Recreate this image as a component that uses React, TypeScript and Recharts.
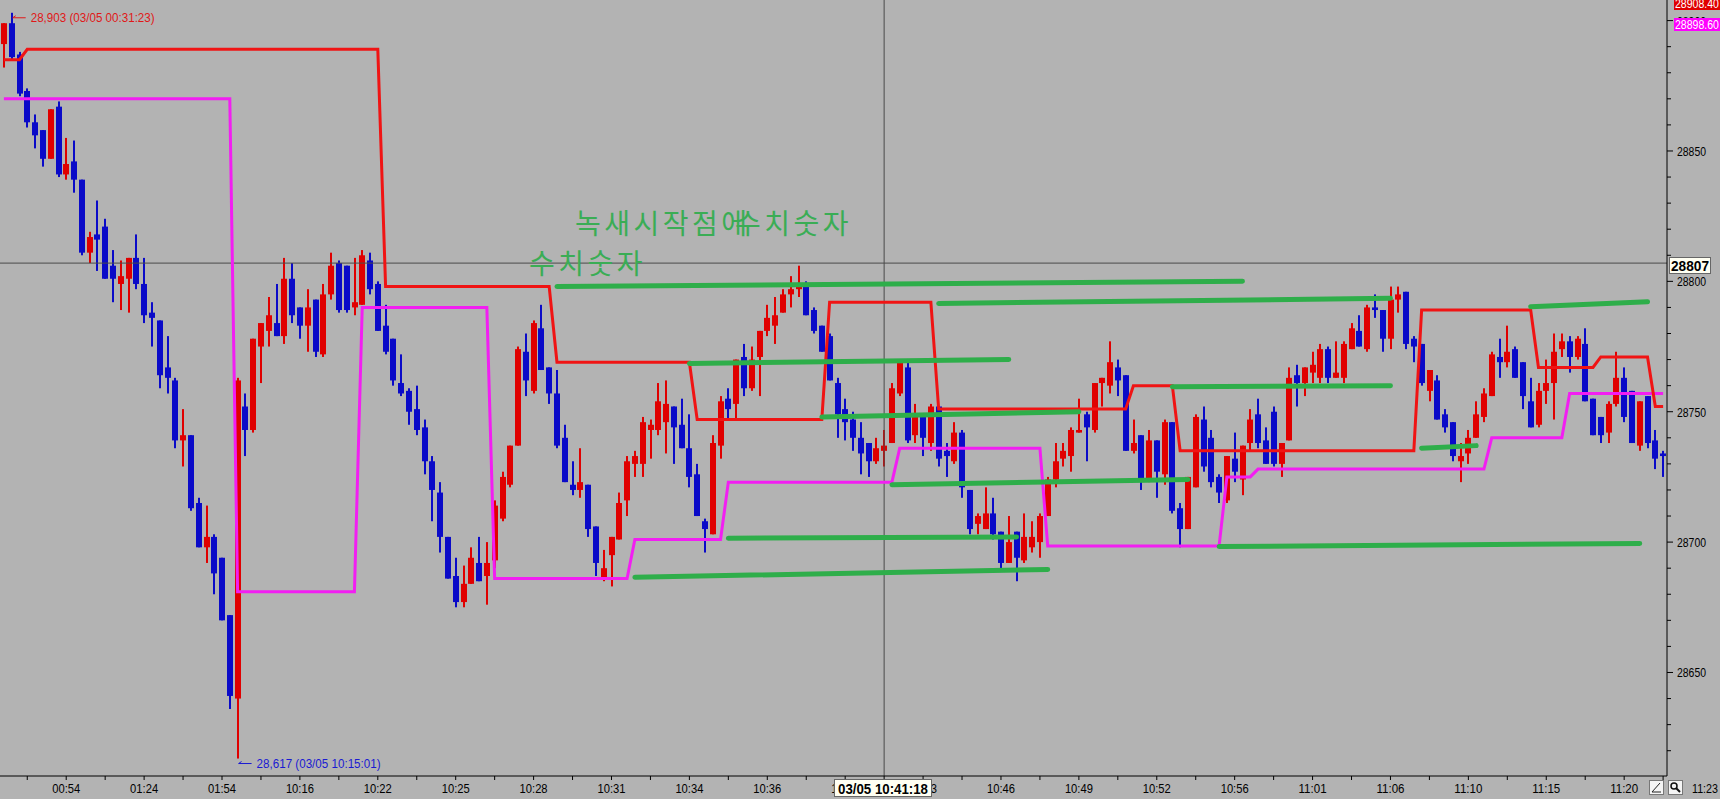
import React from "react";
import { ComposedChart, Bar, Line, XAxis, YAxis, ReferenceLine, ReferenceDot } from "recharts";

// one-minute-ish candles (index 0..213)
const opens = [
  28891, 28899, 28887, 28873, 28861, 28858, 28847, 28867, 28841, 28846,
  28839, 28811, 28818, 28821, 28806, 28799, 28801, 28809, 28799, 28788,
  28785, 28767, 28762, 28739, 28741, 28715, 28698, 28702, 28694, 28672,
  28640, 28752, 28743, 28775, 28781, 28784, 28779, 28801, 28790, 28783,
  28793, 28772, 28795, 28807, 28806, 28790, 28791, 28808, 28799, 28783,
  28778, 28761, 28758, 28751, 28744, 28731, 28719, 28702, 28687, 28677,
  28684, 28692, 28687, 28693, 28709, 28722, 28737, 28773, 28758, 28782,
  28767, 28757, 28740, 28722, 28720, 28722, 28706, 28686, 28695, 28701,
  28716, 28730, 28730, 28743, 28743, 28746, 28752, 28745, 28736, 28726,
  28708, 28703, 28737, 28755, 28753, 28771, 28759, 28771, 28781, 28783,
  28788, 28795, 28797, 28798, 28789, 28783, 28779, 28761, 28751, 28747,
  28740, 28738, 28731, 28735, 28738, 28757, 28767, 28741, 28749, 28738,
  28752, 28735, 28731, 28742, 28720, 28707, 28705, 28711, 28704, 28692,
  28704, 28693, 28698, 28700, 28710, 28724, 28732, 28733, 28742, 28749,
  28743, 28761, 28760, 28767, 28764, 28735, 28741, 28724, 28739, 28726,
  28746, 28713, 28705, 28721, 28747, 28740, 28725, 28716, 28732, 28724,
  28738, 28749, 28739, 28750, 28730, 28739, 28764, 28761, 28765, 28763,
  28774, 28763, 28763, 28774, 28781, 28774, 28790, 28789, 28778, 28793,
  28796, 28778, 28776, 28758, 28762, 28749, 28746, 28731, 28734, 28740,
  28748, 28756, 28771, 28769, 28774, 28769, 28754, 28745, 28758, 28761,
  28774, 28777, 28771, 28776, 28755, 28748, 28742, 28753, 28763, 28758,
  28737, 28756, 28739, 28734,
];
const highs = [
  28899, 28903, 28888, 28874, 28864, 28858, 28866, 28869, 28855, 28854,
  28839, 28819, 28831, 28824, 28812, 28808, 28809, 28818, 28809, 28792,
  28785, 28779, 28763, 28751, 28741, 28717, 28714, 28703, 28694, 28672,
  28763, 28757, 28778, 28784, 28794, 28799, 28809, 28807, 28790, 28797,
  28793, 28799, 28811, 28808, 28806, 28809, 28812, 28811, 28800, 28791,
  28778, 28772, 28759, 28760, 28747, 28733, 28723, 28702, 28694, 28691,
  28698, 28702, 28700, 28716, 28727, 28737, 28775, 28780, 28785, 28791,
  28767, 28766, 28745, 28731, 28736, 28722, 28706, 28697, 28702, 28719,
  28733, 28735, 28748, 28747, 28761, 28762, 28752, 28755, 28749, 28730,
  28709, 28741, 28756, 28759, 28770, 28776, 28775, 28781, 28791, 28794,
  28797, 28802, 28806, 28800, 28790, 28783, 28780, 28763, 28755, 28750,
  28746, 28738, 28740, 28743, 28761, 28769, 28769, 28753, 28749, 28753,
  28752, 28738, 28746, 28743, 28720, 28711, 28721, 28717, 28704, 28710,
  28704, 28711, 28708, 28711, 28725, 28738, 28738, 28744, 28755, 28750,
  28761, 28763, 28777, 28770, 28764, 28747, 28741, 28743, 28739, 28747,
  28746, 28715, 28725, 28749, 28752, 28743, 28726, 28733, 28742, 28737,
  28751, 28755, 28744, 28752, 28738, 28767, 28768, 28767, 28773, 28776,
  28775, 28777, 28777, 28784, 28787, 28791, 28795, 28789, 28798, 28798,
  28796, 28779, 28776, 28766, 28764, 28751, 28746, 28738, 28743, 28754,
  28759, 28773, 28778, 28783, 28775, 28769, 28763, 28761, 28770, 28780,
  28780, 28779, 28779, 28782, 28755, 28748, 28754, 28773, 28767, 28758,
  28754, 28756, 28743, 28735,
];
const lows = [
  28882, 28885, 28871, 28859, 28851, 28844, 28847, 28840, 28839, 28834,
  28810, 28807, 28804, 28801, 28792, 28789, 28788, 28797, 28784, 28775,
  28759, 28757, 28736, 28729, 28712, 28698, 28692, 28680, 28670, 28636,
  28617, 28733, 28742, 28761, 28775, 28779, 28776, 28784, 28778, 28773,
  28771, 28771, 28793, 28788, 28788, 28787, 28791, 28795, 28781, 28772,
  28760, 28756, 28745, 28741, 28726, 28708, 28696, 28686, 28675, 28675,
  28684, 28685, 28676, 28690, 28708, 28721, 28737, 28756, 28757, 28766,
  28753, 28736, 28723, 28718, 28717, 28702, 28687, 28685, 28683, 28701,
  28710, 28725, 28725, 28732, 28741, 28734, 28730, 28736, 28721, 28710,
  28696, 28703, 28732, 28747, 28747, 28756, 28758, 28756, 28779, 28776,
  28788, 28790, 28794, 28787, 28780, 28773, 28762, 28740, 28739, 28735,
  28726, 28725, 28730, 28729, 28738, 28756, 28738, 28738, 28733, 28735,
  28729, 28725, 28730, 28717, 28703, 28703, 28705, 28701, 28690, 28692,
  28685, 28692, 28696, 28694, 28710, 28721, 28729, 28727, 28742, 28731,
  28742, 28752, 28757, 28756, 28735, 28734, 28720, 28723, 28717, 28722,
  28711, 28698, 28705, 28721, 28727, 28721, 28715, 28715, 28723, 28718,
  28735, 28736, 28730, 28729, 28725, 28739, 28752, 28756, 28761, 28761,
  28761, 28763, 28761, 28774, 28775, 28773, 28786, 28773, 28774, 28788,
  28774, 28769, 28760, 28754, 28747, 28742, 28731, 28723, 28730, 28740,
  28746, 28756, 28763, 28767, 28763, 28751, 28744, 28744, 28753, 28747,
  28771, 28765, 28770, 28754, 28741, 28738, 28738, 28752, 28746, 28738,
  28735, 28736, 28728, 28725,
];
const closes = [
  28899, 28886, 28872, 28861, 28856, 28847, 28866, 28841, 28845, 28839,
  28811, 28817, 28816, 28801, 28801, 28802, 28809, 28799, 28787, 28786,
  28764, 28763, 28739, 28741, 28713, 28698, 28702, 28688, 28670, 28641,
  28762, 28743, 28778, 28784, 28787, 28779, 28801, 28787, 28783, 28790,
  28773, 28795, 28806, 28789, 28789, 28792, 28810, 28797, 28781, 28773,
  28762, 28757, 28750, 28743, 28731, 28720, 28702, 28686, 28677, 28684,
  28694, 28685, 28692, 28714, 28725, 28737, 28774, 28762, 28784, 28766,
  28757, 28737, 28723, 28720, 28723, 28705, 28692, 28690, 28702, 28715,
  28731, 28733, 28746, 28745, 28754, 28753, 28744, 28736, 28725, 28710,
  28705, 28738, 28754, 28751, 28770, 28759, 28770, 28781, 28786, 28787,
  28795, 28797, 28799, 28787, 28781, 28773, 28762, 28749, 28746, 28740,
  28734, 28731, 28736, 28737, 28759, 28769, 28739, 28749, 28740, 28752,
  28732, 28733, 28742, 28721, 28705, 28710, 28711, 28703, 28692, 28700,
  28694, 28702, 28702, 28710, 28724, 28731, 28735, 28743, 28743, 28744,
  28761, 28763, 28769, 28762, 28735, 28738, 28724, 28739, 28727, 28746,
  28712, 28705, 28725, 28748, 28729, 28723, 28719, 28733, 28727, 28737,
  28747, 28738, 28730, 28730, 28738, 28763, 28761, 28767, 28768, 28774,
  28763, 28765, 28776, 28782, 28775, 28790, 28789, 28778, 28793, 28795,
  28776, 28775, 28761, 28766, 28747, 28744, 28733, 28733, 28740, 28749,
  28757, 28772, 28769, 28773, 28763, 28756, 28744, 28758, 28761, 28773,
  28777, 28771, 28778, 28754, 28741, 28741, 28753, 28763, 28748, 28738,
  28754, 28738, 28732, 28733,
];

// vertices of the red and magenta step lines: [candle index, price]
const redLine: [number, number][] = [
  [0, 28885], [2, 28885], [3, 28889], [48, 28889], [49, 28798], [70, 28798],
  [71, 28769], [88, 28769], [89, 28747], [105, 28747], [106, 28792], [119, 28792],
  [120, 28751], [144, 28751], [145, 28760], [150, 28760], [151, 28735], [181, 28735],
  [182, 28789], [196, 28789], [197, 28767], [204, 28767], [205, 28771], [211, 28771],
  [212, 28752], [213, 28752],
];
const magentaLine: [number, number][] = [
  [0, 28870], [29, 28870], [30, 28681], [45, 28681], [46, 28790], [62, 28790],
  [63, 28686], [80, 28686], [81, 28701], [92, 28701], [93, 28723], [114, 28723],
  [115, 28736], [133, 28736], [134, 28698.5], [156, 28698.5], [157, 28725], [160, 28725],
  [161, 28728], [190, 28728], [191, 28740], [200, 28740], [201, 28757], [213, 28757],
];
// green level lines: [start index, start price, end index, end price]
const greenSegments: [number, number, number, number][] = [
  [71, 28798, 159, 28800],
  [88, 28768.5, 129, 28770],
  [120, 28791.5, 178, 28793.5],
  [105, 28748, 138, 28750],
  [93, 28701.5, 130, 28702],
  [114, 28722, 152, 28724],
  [150, 28759.6, 178, 28760],
  [81, 28686.5, 134, 28689.5],
  [156, 28698.3, 210, 28699.5],
  [182, 28736, 189, 28737],
  [196, 28790.3, 211, 28792.2],
];

const timeLabels: Record<number, string> = {
  8: "00:54", 18: "01:24", 28: "01:54", 38: "10:16", 48: "10:22", 58: "10:25",
  68: "10:28", 78: "10:31", 88: "10:34", 98: "10:36", 108: "10:39", 118: "10:43",
  128: "10:46", 138: "10:49", 148: "10:52", 158: "10:56", 168: "11:01", 178: "11:06",
  188: "11:10", 198: "11:15", 208: "11:20",
};
const xTicks = [
  3, 8, 13, 18, 23, 28, 33, 38, 43, 48, 53, 58, 63, 68, 73, 78, 83, 88, 93, 98,
  103, 108, 113, 118, 123, 128, 133, 138, 143, 148, 153, 158, 163, 168, 173, 178,
  183, 188, 193, 198, 203, 208, 213,
];
const yTicks = [
  28620, 28630, 28640, 28650, 28660, 28670, 28680, 28690, 28700, 28710,
  28720, 28730, 28740, 28750, 28760, 28770, 28780, 28790, 28800, 28810,
  28820, 28830, 28840, 28850, 28860, 28870, 28880, 28890, 28900,
];

const W = 1720;
const H = 799;
const Y_AXIS_W = 53;
const X_AXIS_H = 23;
const PLOT_RIGHT = W - Y_AXIS_W;
const PLOT_BOTTOM = H - X_AXIS_H;

const BG = "#b3b3b3";
const CANDLE_UP = "#e00000";
const CANDLE_DOWN = "#0a0ac8";
const GREEN = "#2eae4a";
const TEXT_GREEN = "#3aad55";
const SANS = "'Liberation Sans', Arial, sans-serif";
const KR = "'Noto Sans CJK KR', sans-serif";

type Row = { [k: string]: any };

const data: Row[] = opens.map((o, i) => ({
  i,
  o,
  h: highs[i],
  l: lows[i],
  c: closes[i],
  range: [lows[i], highs[i]],
}));
redLine.forEach(([i, v]) => {
  data[i].red = v;
});
magentaLine.forEach(([i, v]) => {
  data[i].magenta = v;
});
greenSegments.forEach(([a, va, b, vb], k) => {
  data[a]["g" + k] = va;
  data[b]["g" + k] = vb;
});

const Candle = (props: any) => {
  const { x, y, width, height, payload } = props;
  if (!payload) return null;
  const top = Math.min(y, y + height);
  const bottom = Math.max(y, y + height);
  const span = payload.h - payload.l;
  const toY = (v: number) => (span === 0 ? top : top + ((payload.h - v) / span) * (bottom - top));
  const cx = Math.round(x + width / 2);
  const color = payload.c >= payload.o ? CANDLE_UP : CANDLE_DOWN;
  const yo = toY(payload.o);
  const yc = toY(payload.c);
  const bodyTop = Math.min(yo, yc);
  const bodyH = Math.max(2, Math.abs(yo - yc));
  return (
    <g>
      <rect x={cx - 1} y={top} width={2} height={Math.max(1, bottom - top)} fill={color} />
      <rect x={cx - 3} y={bodyTop} width={6} height={bodyH} fill={color} />
    </g>
  );
};

const YTick = (props: any) => {
  const { y, payload } = props;
  const v = payload.value;
  const major = v % 50 === 0;
  return (
    <g>
      <line x1={PLOT_RIGHT} x2={PLOT_RIGHT + (major ? 6 : 4)} y1={y} y2={y} stroke="#000" />
      {major && (
        <text
          x={PLOT_RIGHT + 10}
          y={y + 5}
          fontSize={13.5}
          fill="#000"
          fontFamily={SANS}
          textLength={29}
          lengthAdjust="spacingAndGlyphs"
        >
          {v}
        </text>
      )}
    </g>
  );
};

const XTick = (props: any) => {
  const { x, payload } = props;
  const label = timeLabels[payload.value];
  return (
    <g>
      <line x1={x} x2={x} y1={PLOT_BOTTOM} y2={PLOT_BOTTOM + 4} stroke="#000" />
      {label && (
        <text
          x={x - 14}
          y={PLOT_BOTTOM + 17}
          fontSize={13.5}
          fill="#000"
          fontFamily={SANS}
          textLength={28}
          lengthAdjust="spacingAndGlyphs"
        >
          {label}
        </text>
      )}
    </g>
  );
};

// arrow + price/time note next to the session high / low
const ExtremeNote = (props: any) => {
  const { viewBox, text, color, offset } = props;
  if (!viewBox) return null;
  const cx = viewBox.x + (viewBox.width || 0) / 2;
  const cy = viewBox.y + (viewBox.height || 0) / 2 + offset;
  return (
    <g>
      <line x1={cx + 1} y1={cy} x2={cx + 14} y2={cy} stroke={color} strokeWidth={1} />
      <line x1={cx + 1} y1={cy} x2={cx + 4} y2={cy - 2} stroke={color} strokeWidth={1} />
      <text
        x={cx + 19}
        y={cy + 4}
        fontSize={12.5}
        fill={color}
        fontFamily={SANS}
        textLength={124}
        lengthAdjust="spacingAndGlyphs"
      >
        {text}
      </text>
    </g>
  );
};

export default function App() {
  return (
    <div style={{ position: "absolute", left: 0, top: 0, width: W, height: H, background: BG, overflow: "hidden" }}>
      <ComposedChart width={W} height={H} data={data} margin={{ top: 0, right: 0, bottom: 0, left: 0 }} barCategoryGap={0}>
        <XAxis
          dataKey="i"
          type="category"
          ticks={xTicks}
          interval={0}
          tick={<XTick />}
          tickLine={false}
          axisLine={{ stroke: "#000" }}
          height={X_AXIS_H}
        />
        <YAxis
          orientation="right"
          type="number"
          domain={[28610.3, 28907.9]}
          allowDataOverflow
          ticks={yTicks}
          interval={0}
          tick={<YTick />}
          tickLine={false}
          axisLine={{ stroke: "#000" }}
          width={Y_AXIS_W}
        />
        <ReferenceLine y={28807} stroke="#4a4a4a" strokeWidth={1} />
        <ReferenceLine x={113} stroke="#4a4a4a" strokeWidth={1} />
        <Bar dataKey="range" shape={<Candle />} isAnimationActive={false} />
        <Line
          dataKey="magenta"
          type="linear"
          stroke="#f21ef2"
          strokeWidth={3}
          dot={false}
          activeDot={false}
          connectNulls
          isAnimationActive={false}
        />
        <Line
          dataKey="red"
          type="linear"
          stroke="#f01414"
          strokeWidth={3}
          dot={false}
          activeDot={false}
          connectNulls
          isAnimationActive={false}
        />
        {greenSegments.map((_, k) => (
          <Line
            key={k}
            dataKey={"g" + k}
            type="linear"
            stroke={GREEN}
            strokeWidth={5}
            strokeLinecap="round"
            dot={false}
            activeDot={false}
            connectNulls
            isAnimationActive={false}
          />
        ))}
        <ReferenceDot
          x={1}
          y={28903}
          r={0}
          fill="none"
          stroke="none"
          label={<ExtremeNote text="28,903 (03/05 00:31:23)" color="#e01818" offset={-3} />}
        />
        <ReferenceDot
          x={30}
          y={28617}
          r={0}
          fill="none"
          stroke="none"
          label={<ExtremeNote text="28,617 (03/05 10:15:01)" color="#1a1ad2" offset={3} />}
        />
      </ComposedChart>

      <svg width={W} height={H} style={{ position: "absolute", left: 0, top: 0, pointerEvents: "none" }}>
        {/* hand-typed notes */}
        <text x={575} y={234} fontSize={28} letterSpacing={3.5} fill={TEXT_GREEN} fontFamily={KR}>
          녹새시작점에
        </text>
        <text x={735} y={234} fontSize={28} letterSpacing={3.5} fill={TEXT_GREEN} fontFamily={KR}>
          수치숫자
        </text>
        <text x={529} y={274} fontSize={28} letterSpacing={3.5} fill={TEXT_GREEN} fontFamily={KR}>
          수치숫자
        </text>

        {/* last-value boxes on the price axis */}
        <rect x={1674} y={-6} width={46} height={16} fill="#e00000" />
        <text x={1675} y={8} fontSize={13} fill="#fff" fontFamily={SANS} textLength={44} lengthAdjust="spacingAndGlyphs">
          28908.40
        </text>
        <rect x={1674} y={18} width={46} height={13} fill="#ff00ff" />
        <text x={1675} y={29} fontSize={13} fill="#fff" fontFamily={SANS} textLength={44} lengthAdjust="spacingAndGlyphs">
          28898.60
        </text>

        {/* crosshair readouts */}
        <rect x={1669.5} y={257.5} width={41} height={16} fill="#fffff2" stroke="#666" />
        <text
          x={1671}
          y={271}
          fontSize={15}
          fontWeight={700}
          fill="#000"
          fontFamily={SANS}
          textLength={38}
          lengthAdjust="spacingAndGlyphs"
        >
          28807
        </text>
        <rect x={834.5} y={779.5} width={97} height={17} fill="#fffff2" stroke="#666" />
        <text
          x={838}
          y={793.5}
          fontSize={14.5}
          fontWeight={700}
          fill="#000"
          fontFamily={SANS}
          textLength={90}
          lengthAdjust="spacingAndGlyphs"
        >
          03/05 10:41:18
        </text>

        {/* toolbar icons and last time label */}
        <rect x={1649.5} y={780.5} width={14} height={14} fill="#f4f4f4" stroke="#777" />
        <line x1={1652} y1={792} x2={1660} y2={783} stroke="#222" strokeWidth={1} />
        <line x1={1652} y1={792} x2={1661} y2={792} stroke="#222" strokeWidth={1} />
        <rect x={1668.5} y={780.5} width={14} height={14} fill="#f4f4f4" stroke="#777" />
        <circle cx={1674} cy={786} r={3} fill="none" stroke="#111" strokeWidth={1.5} />
        <line x1={1676} y1={788} x2={1680} y2={792} stroke="#111" strokeWidth={2} />
        <text x={1692} y={793} fontSize={13.5} fill="#000" fontFamily={SANS} textLength={26} lengthAdjust="spacingAndGlyphs">
          11:23
        </text>
      </svg>
    </div>
  );
}
